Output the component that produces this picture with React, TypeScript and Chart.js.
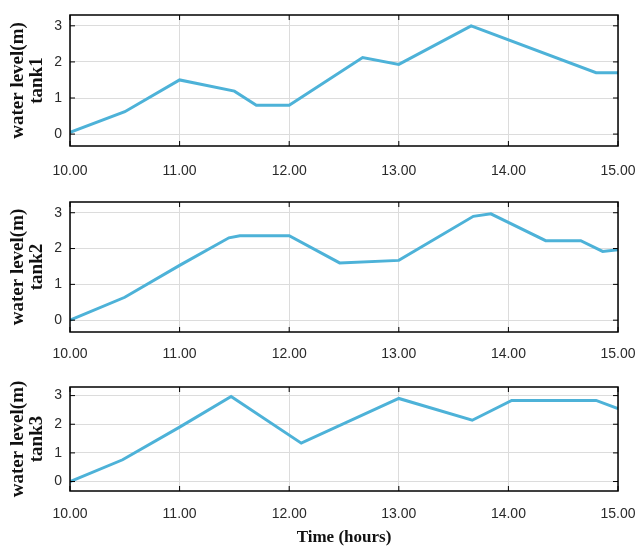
import React, { useEffect, useRef } from "react";
import { Chart, registerables } from "chart.js";

Chart.register(...registerables);

const xTicks = [10, 11, 12, 13, 14, 15];
const yTicks = [0, 1, 2, 3];

const tank1Time = [10.0, 10.5, 11.0, 11.5, 11.7, 12.0, 12.67, 13.0, 13.66, 14.8, 15.0];
const tank1Level = [0.05, 0.62, 1.5, 1.19, 0.8, 0.8, 2.12, 1.93, 3.0, 1.7, 1.7];

const tank2Time = [10.0, 10.5, 11.0, 11.45, 11.55, 12.0, 12.46, 13.0, 13.68, 13.84, 14.34, 14.66, 14.86, 15.0];
const tank2Level = [0.0, 0.64, 1.53, 2.3, 2.36, 2.36, 1.6, 1.67, 2.9, 2.97, 2.22, 2.22, 1.92, 1.97];

const tank3Time = [10.0, 10.48, 11.0, 11.47, 12.11, 13.0, 13.67, 14.03, 14.8, 15.0];
const tank3Level = [0.0, 0.76, 1.9, 2.97, 1.34, 2.9, 2.14, 2.83, 2.83, 2.55];

const tankNames = ["tank1", "tank2", "tank3"];
const yTitle = "water level(m)";
const xTitle = "Time (hours)";

const boxPlugin = {
  id: "box",
  afterDraw(chart: any) {
    const { ctx, chartArea } = chart;
    ctx.save();
    ctx.strokeStyle = "#000";
    ctx.lineWidth = 1.5;
    ctx.strokeRect(chartArea.left, chartArea.top, chartArea.right - chartArea.left, chartArea.bottom - chartArea.top);
    ctx.lineWidth = 1;
    const xs = chart.scales.x;
    const ys = chart.scales.y;
    xTicks.forEach((v) => {
      const px = xs.getPixelForValue(v);
      ctx.beginPath();
      ctx.moveTo(px, chartArea.bottom);
      ctx.lineTo(px, chartArea.bottom - 5);
      ctx.moveTo(px, chartArea.top);
      ctx.lineTo(px, chartArea.top + 5);
      ctx.stroke();
    });
    yTicks.forEach((v) => {
      const py = ys.getPixelForValue(v);
      ctx.beginPath();
      ctx.moveTo(chartArea.left, py);
      ctx.lineTo(chartArea.left + 5, py);
      ctx.moveTo(chartArea.right, py);
      ctx.lineTo(chartArea.right - 5, py);
      ctx.stroke();
    });
    ctx.restore();
  },
};

type PanelProps = {
  top: number;
  height: number;
  padTop: number;
  plotBottom: number;
  tickPad: number;
  times: number[];
  levels: number[];
  name: string;
  showXTitle: boolean;
};

function Panel({ top, height, padTop, plotBottom, tickPad, times, levels, name, showXTitle }: PanelProps) {
  const ref = useRef<HTMLCanvasElement>(null);
  useEffect(() => {
    const xHeight = height - plotBottom;
    const chart = new Chart(ref.current!, {
      type: "line",
      data: {
        datasets: [
          {
            data: times.map((t, i) => ({ x: t, y: levels[i] })),
            borderColor: "#4db2d8",
            borderWidth: 3,
            pointRadius: 0,
            tension: 0,
            fill: false,
          },
        ],
      },
      options: {
        responsive: false,
        animation: false,
        devicePixelRatio: 1,
        layout: { padding: { top: padTop, left: 0, right: 20, bottom: 0 } },
        plugins: { legend: { display: false }, tooltip: { enabled: false } },
        scales: {
          x: {
            type: "linear",
            min: 10,
            max: 15,
            afterFit: (s: any) => {
              s.height = xHeight;
              s.paddingLeft = 0;
              s.paddingRight = 0;
            },
            afterBuildTicks: (s: any) => {
              s.ticks = xTicks.map((v) => ({ value: v }));
            },
            ticks: {
              padding: tickPad,
              maxRotation: 0,
              autoSkip: false,
              color: "#2a2a2a",
              font: { family: "Liberation Sans, Arial, sans-serif", size: 14 },
              callback: (v: any) => Number(v).toFixed(2),
            },
            grid: { color: "#dcdcdc", drawTicks: false, lineWidth: 1 },
            border: { display: false },
            title: {
              display: showXTitle,
              text: xTitle,
              color: "#111",
              font: { family: "Liberation Serif, Times New Roman, serif", size: 17, weight: "bold" },
              padding: { top: 0, bottom: -2 },
            },
          },
          y: {
            type: "linear",
            min: -0.33,
            max: 3.3,
            afterFit: (s: any) => {
              s.width = 70;
              s.paddingTop = 0;
              s.paddingBottom = 0;
            },
            afterBuildTicks: (s: any) => {
              s.ticks = yTicks.map((v) => ({ value: v }));
            },
            ticks: {
              padding: 8,
              color: "#2a2a2a",
              font: { family: "Liberation Sans, Arial, sans-serif", size: 14 },
              callback: (v: any) => String(v),
            },
            grid: { color: "#dcdcdc", drawTicks: false, lineWidth: 1 },
            border: { display: false },
            title: {
              display: true,
              text: [yTitle, name],
              color: "#111",
              font: { family: "Liberation Serif, Times New Roman, serif", size: 19, weight: "bold", lineHeight: 1.0 },
              padding: { top: 9, bottom: 0 },
            },
          },
        },
      },
      plugins: [boxPlugin],
    });
    return () => chart.destroy();
  }, []);
  return (
    <canvas
      ref={ref}
      width={638}
      height={height}
      style={{ position: "absolute", left: 0, top, width: 638, height, display: "block" }}
    />
  );
}

export default function App() {
  return (
    <div style={{ position: "absolute", left: 0, top: 0, width: 638, height: 546, overflow: "hidden", background: "#fff" }}>
      <Panel top={0} height={182} padTop={15} plotBottom={146} tickPad={17} times={tank1Time} levels={tank1Level} name={tankNames[0]} showXTitle={false} />
      <Panel top={182} height={180} padTop={20} plotBottom={150} tickPad={14} times={tank2Time} levels={tank2Level} name={tankNames[1]} showXTitle={false} />
      <Panel top={362} height={184} padTop={25} plotBottom={129} tickPad={15} times={tank3Time} levels={tank3Level} name={tankNames[2]} showXTitle={true} />
    </div>
  );
}
